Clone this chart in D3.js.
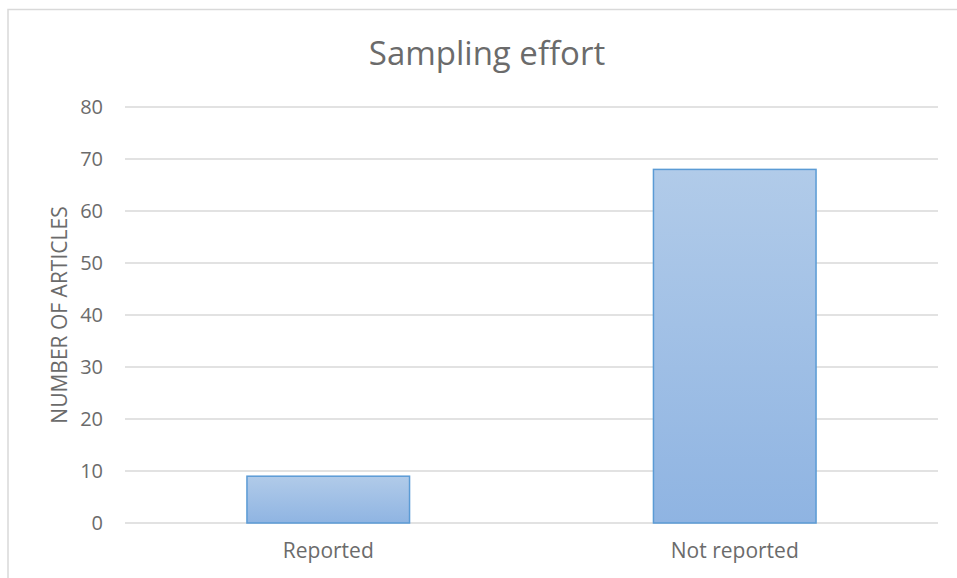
<!DOCTYPE html>
<html>
<head>
<meta charset="utf-8">
<script src="https://cdn.jsdelivr.net/npm/d3@7"></script>
<style>
  body { margin: 0; background: #fff; }
  text { font-family: "Open Sans", "Noto Sans", sans-serif; fill: #6b6b6b; }
</style>
</head>
<body>
<div id="chart"></div>
<script>
const categories = ['Reported', 'Not reported']
const values = [9, 68]
const yTicks = [0, 10, 20, 30, 40, 50, 60, 70, 80]

const w = 957
const h = 578
const plotLeft = 125, plotRight = 938, plotTop = 107, plotBottom = 523

const svg = d3.select('#chart')
  .append('svg')
  .attr('width', w)
  .attr('height', h)

// outer chart border (only left and top are visible in the crop)
svg.append('path')
  .attr('d', `M8,${h} V9.5 H${w}`)
  .attr('fill', 'none')
  .attr('stroke', '#d9d9d9')
  .attr('stroke-width', 1.5)

const defs = svg.append('defs')
const grad = defs.append('linearGradient')
  .attr('id', 'barGrad')
  .attr('x1', 0).attr('y1', 0).attr('x2', 0).attr('y2', 1)
grad.append('stop').attr('offset', '0%').attr('stop-color', '#b1cbe9')
grad.append('stop').attr('offset', '100%').attr('stop-color', '#8fb4e2')

const xScale = d3.scaleBand()
  .domain(categories)
  .range([plotLeft, plotRight])
  .paddingInner(0.6)
  .paddingOuter(0.3)

const yScale = d3.scaleLinear()
  .domain([0, 80])
  .range([plotBottom, plotTop])

// gridlines
svg.append('g')
  .selectAll('line')
  .data(yTicks)
  .enter()
  .append('line')
  .attr('x1', plotLeft)
  .attr('x2', plotRight)
  .attr('y1', d => yScale(d))
  .attr('y2', d => yScale(d))
  .attr('stroke', '#d9d9d9')
  .attr('stroke-width', 1.5)

const yAxis = d3.axisLeft(yScale).tickValues(yTicks).tickSize(0).tickPadding(22)
const gy = svg.append('g')
  .attr('transform', `translate(${plotLeft}, 0)`)
  .call(yAxis)
gy.select('.domain').remove()
gy.selectAll('text').style('font-size', '20px').attr('fill', '#6b6b6b')

// bars
svg.selectAll('rect.bar')
  .data(values)
  .enter()
  .append('rect')
  .attr('class', 'bar')
  .attr('x', (d, i) => xScale(categories[i]))
  .attr('y', d => yScale(d))
  .attr('width', xScale.bandwidth())
  .attr('height', d => yScale(0) - yScale(d))
  .attr('fill', 'url(#barGrad)')
  .attr('stroke', '#5b9bd5')
  .attr('stroke-width', 1.5)

const xAxis = d3.axisBottom(xScale).tickSize(0).tickPadding(20)
const gx = svg.append('g')
  .attr('transform', `translate(0, ${plotBottom})`)
  .call(xAxis)
gx.select('.domain').remove()
gx.selectAll('text').style('font-size', '21px').attr('fill', '#6b6b6b')

svg.append('text')
  .attr('x', 487)
  .attr('y', 65)
  .attr('text-anchor', 'middle')
  .style('font-size', '33px')
  .text('Sampling effort')

svg.append('text')
  .attr('transform', `translate(67, ${(plotTop + plotBottom) / 2}) rotate(-90)`)
  .attr('text-anchor', 'middle')
  .style('font-size', '21px')
  .text('NUMBER OF ARTICLES')
</script>
</body>
</html>
